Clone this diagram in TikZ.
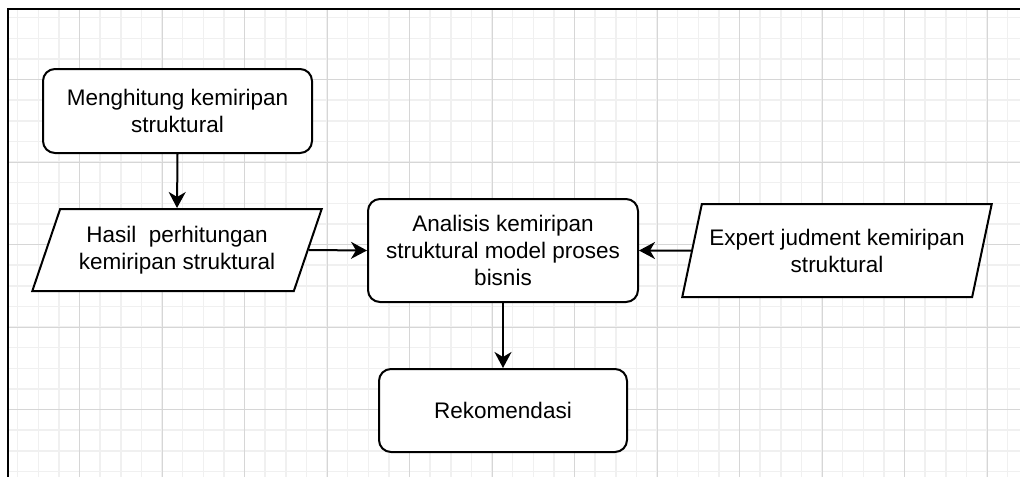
\documentclass[tikz,border=0pt]{standalone}
\usepackage{fontspec}
\setmainfont{Liberation Sans}
\usetikzlibrary{arrows.meta,shapes.geometric}
\tikzset{
  minorgrid/.style={line width=1.5pt,black!6},
  majorgrid/.style={line width=1pt,black!16},
  proses/.style={draw,line width=2pt,rounded corners=12pt,fill=white,align=center},
  datashape/.style={draw,line width=2pt,fill=white,align=center,trapezium,trapezium stretches=true,inner sep=0pt},
  panah/.style={line width=2pt,-{Stealth[length=16pt,width=17pt,inset=5pt]}},
}
\begin{document}
\begin{tikzpicture}[x=1pt,y=-1pt,font=\fontsize{22.5}{27}\selectfont]
\useasboundingbox (0,0) rectangle (1020,477);
\fill[white] (0,0) rectangle (1020,477);
\foreach \i in {1,...,49}
    \draw[minorgrid] ({-3+20.625*\i},9) -- ({-3+20.625*\i},477);
\foreach \j in {1,...,23}
    \draw[minorgrid] (8,{-3+20.625*\j}) -- (1020,{-3+20.625*\j});
\foreach \i in {1,...,12}
    \draw[majorgrid] ({-3+82.5*\i},9) -- ({-3+82.5*\i},477);
\foreach \j in {1,...,5}
    \draw[majorgrid] (8,{-3+82.5*\j}) -- (1020,{-3+82.5*\j});
\draw[line width=2pt] (1020,9) -- (8,9) -- (8,477);

\node[proses,minimum width=269pt,minimum height=84pt] (hitung) at (177.5,111) {Menghitung kemiripan\\struktural};
\node[datashape,trapezium left angle=64,trapezium right angle=116,minimum width=290pt,minimum height=82pt] (hasil) at (177,250) {Hasil\ \ perhitungan\\kemiripan struktural};
\node[proses,minimum width=270pt,minimum height=103pt] (analisis) at (503,250.5) {Analisis kemiripan\\struktural model proses\\bisnis};
\node[datashape,trapezium left angle=67,trapezium right angle=113,minimum width=310pt,minimum height=93pt] (expert) at (837,250.5) {Expert judment kemiripan\\struktural};
\node[proses,minimum width=248pt,minimum height=83pt] (rekom) at (503,410.5) {Rekomendasi};

\draw[panah] (hitung.south) -- (hasil.north);
\draw[panah] (hasil.east) -- (analisis.west);
\draw[panah] (expert.west) -- (analisis.east);
\draw[panah] (analisis.south) -- (rekom.north);
\end{tikzpicture}
\end{document}
